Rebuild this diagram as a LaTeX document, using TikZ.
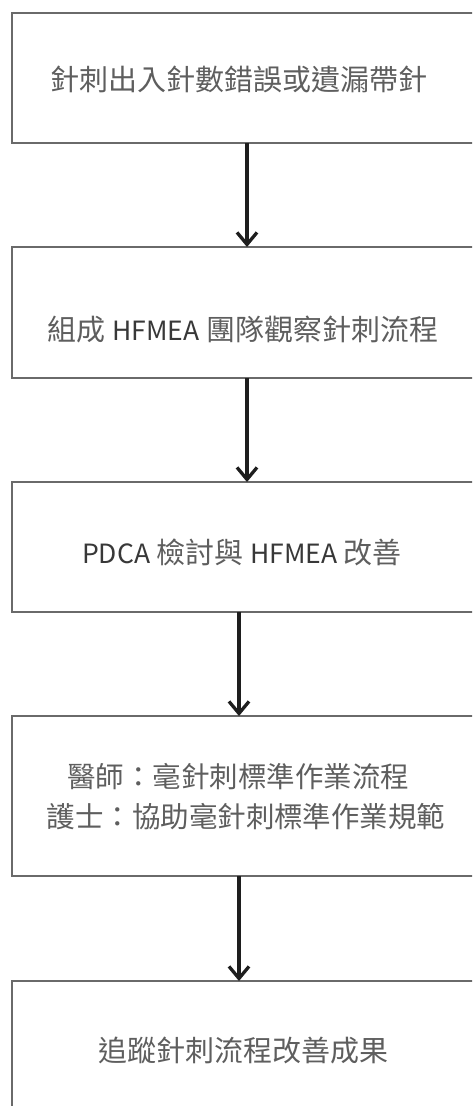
\documentclass[tikz,border=0pt]{standalone}
\usepackage{fontspec}
\setmainfont{Noto Sans CJK TC}
\usetikzlibrary{arrows.meta}
\definecolor{boxline}{HTML}{6A6A6A}
\definecolor{cjktext}{HTML}{5E5E5E}
\definecolor{lattext}{HTML}{383838}
\definecolor{arrowcol}{HTML}{1E1E1E}
\newcommand{\lat}[1]{{\fontsize{26.5}{36}\selectfont\textcolor{lattext}{#1}}}
\begin{document}
\begin{tikzpicture}[x=1pt,y=-1pt,
  boxshape/.style={draw=boxline,line width=1.5pt,rectangle,inner sep=0pt,outer sep=0pt,minimum width=480pt},
  label/.style={text=cjktext,inner sep=0pt,align=center},
  flowarrow/.style={draw=arrowcol,line width=3.3pt,-{Straight Barb[length=12pt,width=20pt,line width=3.3pt]}}]
\useasboundingbox (0,0) rectangle (472,1106);
\clip (0,0) rectangle (472,1106);
\fill[white] (0,0) rectangle (472,1106);
% boxes
\node[boxshape,minimum height=130pt] (b1) at (252,78) {};
\node[boxshape,minimum height=131pt] (b2) at (252,312.5) {};
\node[boxshape,minimum height=130pt] (b3) at (252,547) {};
\node[boxshape,minimum height=160pt] (b4) at (252,796) {};
\node[boxshape,minimum height=160pt] (b5) at (252,1061) {};
% texts
\node[label,font=\fontsize{29}{36}\selectfont] (t1) at (239,79) {針刺出入針數錯誤或遺漏帶針};
\node[label,font=\fontsize{29}{36}\selectfont] (t2) at (243,329) {組成 \lat{HFMEA} 團隊觀察針刺流程};
\node[label,font=\fontsize{29}{36}\selectfont] (t3) at (242,552) {\lat{PDCA} 檢討與 \lat{HFMEA} 改善};
\node[label,font=\fontsize{28.5}{40}\selectfont] (t4a) at (238,777) {醫師：毫針刺標準作業流程};
\node[label,font=\fontsize{28.5}{40}\selectfont] (t4b) at (246,817) {護士：協助毫針刺標準作業規範};
\node[label,font=\fontsize{29}{36}\selectfont] (t5) at (243.5,1050) {追蹤針刺流程改善成果};
% arrow x positions
\coordinate (ax1) at (247,0);
\coordinate (ax2) at (247,0);
\coordinate (ax3) at (239,0);
\coordinate (ax4) at (239,0);
\draw[flowarrow] (ax1 |- b1.south) -- (ax1 |- b2.north);
\draw[flowarrow] (ax2 |- b2.south) -- (ax2 |- b3.north);
\draw[flowarrow] (ax3 |- b3.south) -- (ax3 |- b4.north);
\draw[flowarrow] (ax4 |- b4.south) -- (ax4 |- b5.north);
\end{tikzpicture}
\end{document}
